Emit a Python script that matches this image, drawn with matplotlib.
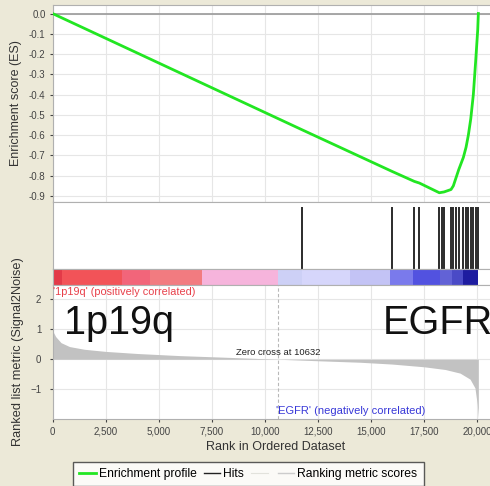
import matplotlib
matplotlib.use("Agg")
import matplotlib.pyplot as plt
from matplotlib.lines import Line2D

plt.rcParams['font.family'] = ['Liberation Sans', 'DejaVu Sans']

# ---- data -------------------------------------------------------------
# running enrichment score: (rank, ES) vertices of the profile
es_rank = [0, 11768, 15980, 17045, 17280, 18222, 18444, 18773, 18882, 19009,
           19136, 19353, 19480, 19589, 19702, 19824, 19937, 20031, 20060]
es_value = [0.0, -0.574, -0.778, -0.828, -0.836, -0.884, -0.880, -0.868, -0.850,
            -0.810, -0.770, -0.710, -0.660, -0.600, -0.520, -0.400, -0.230,
            -0.080, 0.0]

# positions of gene-set members in the ranked list
hit_ranks = [11768, 15980, 17045, 17280, 18222, 18335, 18444, 18773, 18882,
             19009, 19136, 19353, 19480, 19589, 19702, 19824, 19937, 20031]

# ranked list metric (Signal2Noise) profile
metric_rank = [0, 150, 400, 800, 1500, 2500, 4000, 6000, 8000, 10632, 12500,
               14500, 16000, 17500, 18500, 19200, 19670, 19900, 20010, 20060]
metric_value = [0.95, 0.75, 0.55, 0.42, 0.33, 0.26, 0.19, 0.12, 0.07, 0.0,
                -0.05, -0.10, -0.16, -0.25, -0.34, -0.46, -0.66, -0.95, -1.5,
                -1.95]

# heat-map strip: segment edges along the ranked list and their colours
band_edges = [0, 448, 3274, 4593, 7043, 10632, 11754, 14015, 15900, 16984,
              18256, 18820, 19338, 20060]
band_colors = ['#e33a48', '#f25358', '#f2657a', '#f27b80', '#f6b4dc',
               '#cdd0f6', '#d6d6fb', '#c3c3f5', '#7a7aec', '#5252e0',
               '#6262d6', '#4a4ac6', '#1e1ca0']

zero_cross = 10632
x_ticks = [0, 2500, 5000, 7500, 10000, 12500, 15000, 17500, 20000]
x_tick_labels = ['0', '2,500', '5,000', '7,500', '10,000', '12,500', '15,000',
                 '17,500', '20,000']
es_ticks = [0.0, -0.1, -0.2, -0.3, -0.4, -0.5, -0.6, -0.7, -0.8, -0.9]
metric_ticks = [2, 1, 0, -1]

# ---- layout -----------------------------------------------------------
W, H = 490, 486
BG = '#ECE9D8'
fig = plt.figure(figsize=(W / 100, H / 100), dpi=100, facecolor=BG)


def panel(x0, y0, x1, y1):
    return fig.add_axes([x0 / W, 1 - y1 / H, (x1 - x0) / W, (y1 - y0) / H])


XL, XR = 52.5, 498.3
XMAX = 21000
ax_es = panel(XL, 5, XR, 202)
ax_hit = panel(XL, 202, XR, 269)
ax_bar = panel(XL, 269, XR, 285)
ax_met = panel(XL, 285, XR, 419)

tick_col = '#444444'
spine_col = '#b0b0b0'
grid_col = '#e6e6e6'
label_col = '#333333'

for ax in (ax_es, ax_hit, ax_bar, ax_met):
    ax.set_xlim(0, XMAX)
    ax.set_facecolor('white')
    for s in ax.spines.values():
        s.set_color(spine_col)
        s.set_linewidth(0.8)

# enrichment profile
ax_es.set_ylim(-0.9296, 0.042)
ax_es.set_yticks(es_ticks)
ax_es.set_yticklabels([f'{t:.1f}' for t in es_ticks])
ax_es.set_xticks(x_ticks)
ax_es.tick_params(axis='x', length=0, labelbottom=False)
ax_es.tick_params(axis='y', labelsize=7, colors=tick_col, length=2, pad=3)
ax_es.grid(True, color=grid_col, lw=0.8)
ax_es.set_axisbelow(True)
ax_es.axhline(0, color='#a0a0a0', lw=1.3, zorder=1)
ax_es.plot(es_rank, es_value, color='#22e622', lw=2.0, zorder=3)
ax_es.set_ylabel('Enrichment score (ES)', fontsize=9, color=label_col)
ax_es.yaxis.set_label_coords((22 - XL) / (XR - XL), 0.5)

# hits
ax_hit.set_ylim(0, 1)
ax_hit.vlines(hit_ranks, 0, 0.93, color='#1a1a1a', lw=1.3)
ax_hit.set_xticks([])
ax_hit.set_yticks([])

# heat-map strip
for i, c in enumerate(band_colors):
    ax_bar.axvspan(band_edges[i], band_edges[i + 1], color=c, lw=0)
ax_bar.set_xticks([])
ax_bar.set_yticks([])

# ranked list metric
ax_met.set_ylim(-1.98, 2.46)
ax_met.set_yticks(metric_ticks)
ax_met.set_xticks(x_ticks)
ax_met.set_xticklabels(x_tick_labels)
ax_met.tick_params(axis='both', labelsize=7, colors=tick_col, length=2)
ax_met.tick_params(axis='y', pad=6)
ax_met.grid(True, color=grid_col, lw=0.8)
ax_met.set_axisbelow(True)
ax_met.fill_between(metric_rank, metric_value, 0, color='#c2c2c2', lw=0,
                    zorder=2)
ax_met.axvline(zero_cross, color='#b8b8b8', lw=0.8, ls=(0, (3, 2)), zorder=2)
ax_met.set_xlabel('Rank in Ordered Dataset', fontsize=9, color=label_col,
                  labelpad=3)
ax_met.set_ylabel('Ranked list metric (Signal2Noise)', fontsize=9.2,
                  color=label_col)
ax_met.yaxis.set_label_coords((24.5 - XL) / (XR - XL), 0.5)

ax_met.text(40, 2.23, "'1p19q' (positively correlated)", color='#e8404a',
            fontsize=7.8, va='center', ha='left')
ax_met.text(zero_cross, 0.08, 'Zero cross at 10632', color='#222222',
            fontsize=6.8, va='bottom', ha='center')
ax_met.text(zero_cross - 120, -1.71, "'EGFR' (negatively correlated)",
            color='#3838d8', fontsize=8.0, va='center', ha='left')
ax_met.text(560, 0.83, '1p19q', fontsize=28.5, color='#111111', ha='left',
            va='baseline')
ax_met.text(15580, 0.83, 'EGFR', fontsize=28.5, color='#111111', ha='left',
            va='baseline')

# legend (the third, unlabeled slot is the faint spacer entry)
handles = [Line2D([], [], color='#22e622', lw=2.0),
           Line2D([], [], color='#222222', lw=1.0),
           Line2D([], [], color='#e2e2dc', lw=0.8),
           Line2D([], [], color='#cccccc', lw=1.0)]
labels = ['Enrichment profile', 'Hits', '', 'Ranking metric scores']
leg = fig.legend(handles, labels, loc='upper left',
                 bbox_to_anchor=(73 / W, 1 - 462 / H), ncol=4, fontsize=8.7,
                 frameon=True, fancybox=False, edgecolor='#333333',
                 handlelength=1.4, handletextpad=0.25, columnspacing=0.55,
                 borderpad=0.5, borderaxespad=0)
leg.get_frame().set_linewidth(1.0)

fig.savefig('out.png', dpi=100, facecolor=BG)
